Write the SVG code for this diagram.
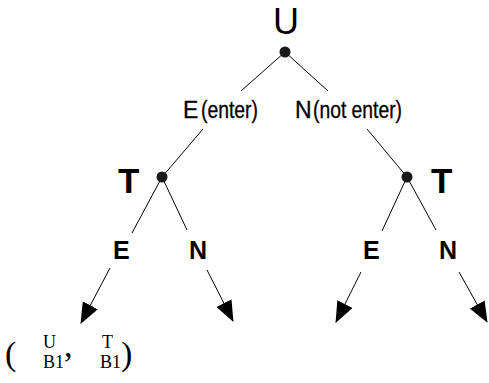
<svg xmlns="http://www.w3.org/2000/svg" width="489" height="383" viewBox="0 0 489 383">
<style>
.ln{stroke:#000;stroke-width:1;fill:none}
.ar{stroke:#000;stroke-width:1;fill:none;marker-end:url(#ah)}
.dot{fill:#1a1a1a}
.big{font-family:"Liberation Sans",Arial,sans-serif;font-size:36px;fill:#000}
.bigb{font-family:"Liberation Sans",Arial,sans-serif;font-size:35px;font-weight:bold;fill:#000}
.mid{font-family:"Liberation Sans",Arial,sans-serif;font-size:23px;fill:#000;stroke:#000;stroke-width:0.3}
.lab{font-family:"Liberation Sans",Arial,sans-serif;font-size:25px;font-weight:bold;fill:#000}
.tm{font-family:"Liberation Serif","Times New Roman",serif;font-size:18px;fill:#000}
.par{font-family:"Liberation Serif","Times New Roman",serif;font-size:34px;fill:#000}
</style>
<defs>
<marker id="ah" markerUnits="userSpaceOnUse" markerWidth="21" markerHeight="17" refX="20" refY="8.5" orient="auto">
<path d="M0,0 L21,8.5 L0,17 z" fill="#000"/>
</marker>
</defs>
<g id="connectors">
<line class="ln" x1="285" y1="52" x2="241" y2="91"/>
<line class="ln" x1="285" y1="52" x2="328" y2="91"/>
<line class="ln" x1="203" y1="129" x2="162" y2="177"/>
<line class="ln" x1="367" y1="129" x2="407" y2="177"/>
<line class="ln" x1="162" y1="177" x2="132" y2="233"/>
<line class="ln" x1="162" y1="177" x2="187" y2="230"/>
<line class="ln" x1="407" y1="177" x2="382" y2="231"/>
<line class="ln" x1="407" y1="177" x2="436" y2="230"/>
<line class="ar" x1="110" y1="268" x2="81" y2="323"/>
<line class="ar" x1="207" y1="270" x2="233" y2="321"/>
<line class="ar" x1="361" y1="272" x2="336" y2="322"/>
<line class="ar" x1="459" y1="272" x2="487" y2="322"/>
</g>
<g id="node-U">
<text class="big" x="286" y="34" text-anchor="middle">U</text>
<circle class="dot" cx="285" cy="52" r="5.5"/>
</g>
<g id="label-enter">
<text class="mid" x="183" y="118">E</text>
<text class="mid" x="201" y="118" textLength="57" lengthAdjust="spacingAndGlyphs">(enter)</text>
</g>
<g id="label-notenter">
<text class="mid" x="295" y="118">N</text>
<text class="mid" x="313" y="118" textLength="89" lengthAdjust="spacingAndGlyphs">(not enter)</text>
</g>
<g id="node-T-left">
<text class="bigb" x="118" y="193">T</text>
<circle class="dot" cx="162" cy="177" r="5.5"/>
</g>
<g id="node-T-right">
<text class="bigb" x="431" y="193">T</text>
<circle class="dot" cx="407" cy="177" r="5.5"/>
</g>
<g id="labels-left">
<text class="lab" x="113" y="259">E</text>
<text class="lab" x="189" y="259">N</text>
</g>
<g id="labels-right">
<text class="lab" x="363" y="259">E</text>
<text class="lab" x="439" y="259">N</text>
</g>
<g id="payoff">
<text class="par" x="5" y="365">(</text>
<text class="tm" x="43" y="348">U</text>
<text class="tm" x="102" y="348">T</text>
<text class="tm" x="43" y="368">B1</text>
<text class="par" x="64" y="357">,</text>
<text class="tm" x="100" y="368">B1</text>
<text class="par" x="121" y="365">)</text>
</g>
</svg>
